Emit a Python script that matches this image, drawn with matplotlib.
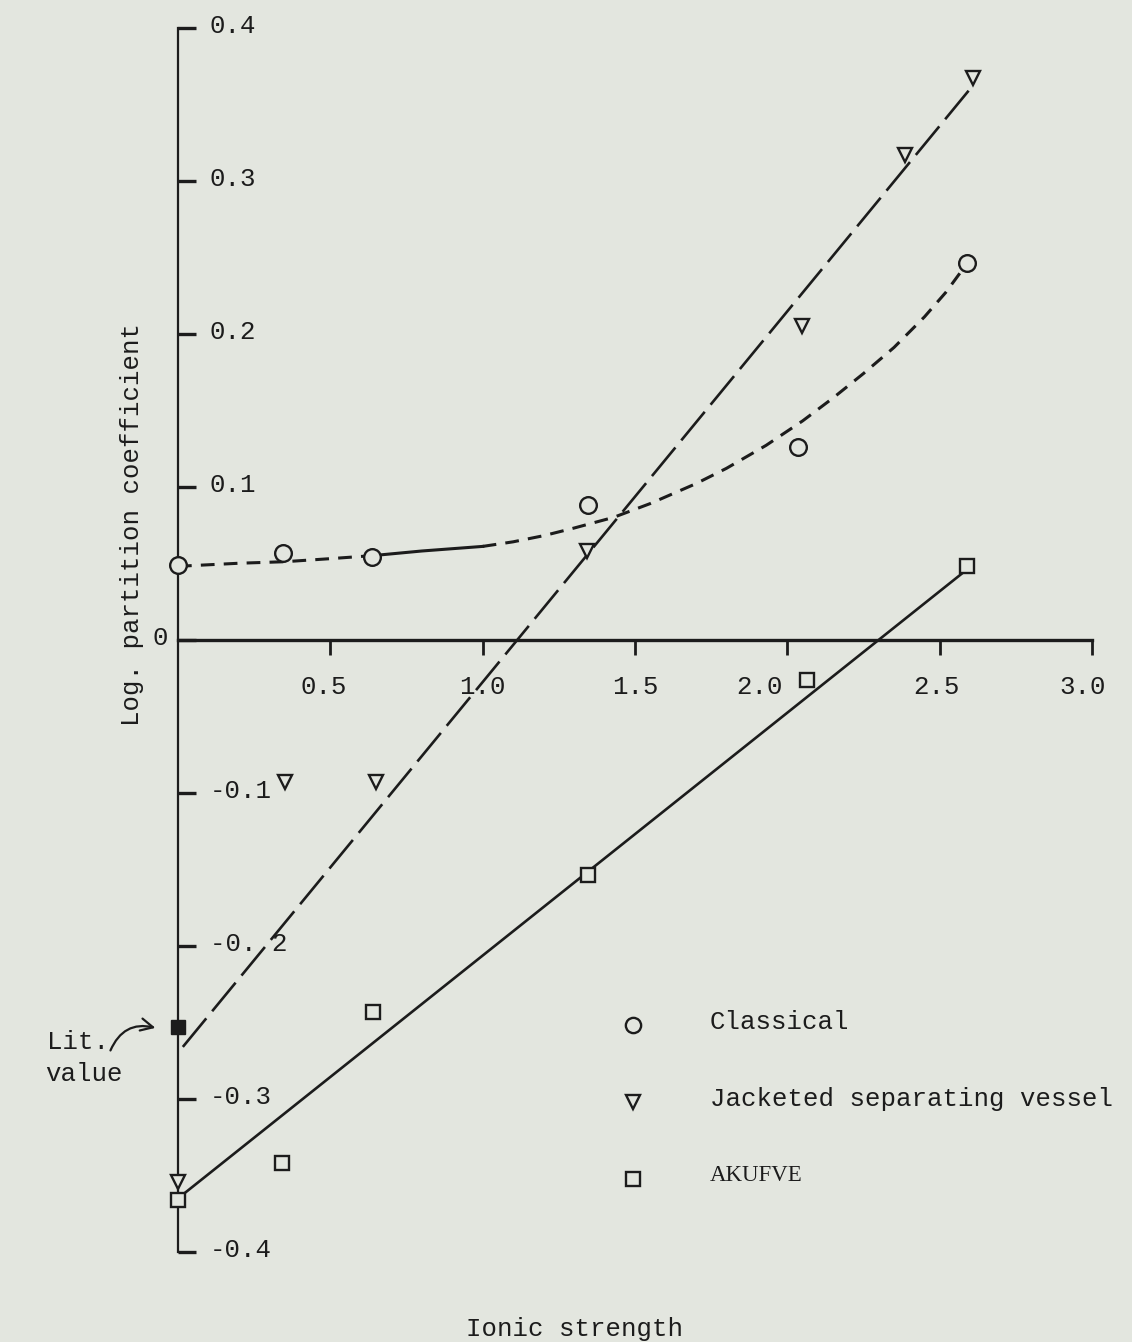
import matplotlib
matplotlib.use("Agg")
import matplotlib.pyplot as plt

# data
classical_x = [0.0, 0.345, 0.637, 1.346, 2.035, 2.59]
classical_y = [0.049, 0.057, 0.054, 0.088, 0.126, 0.246]

jacketed_x = [0.0, 0.351, 0.650, 1.342, 2.048, 2.386, 2.609]
jacketed_y = [-0.354, -0.093, -0.093, 0.058, 0.205, 0.317, 0.367]

akufve_x = [0.0, 0.341, 0.640, 1.346, 2.064, 2.59]
akufve_y = [-0.366, -0.342, -0.243, -0.154, -0.026, 0.048]

lit_x = [0.0]
lit_y = [-0.253]

# hand drawn curve / fitted lines
curve_x = [0.0, 0.2, 0.35, 0.5, 0.64, 0.8, 1.0, 1.1, 1.2, 1.3, 1.43, 1.55, 1.7, 1.8,
           1.93, 2.05, 2.15, 2.25, 2.35, 2.45, 2.52, 2.59]
curve_y = [0.048, 0.050, 0.051, 0.053, 0.055, 0.058, 0.061, 0.064, 0.068, 0.073, 0.080,
           0.089, 0.102, 0.112, 0.127, 0.143, 0.158, 0.174, 0.191, 0.211, 0.227, 0.246]
jack_fit_x = [0.016, 2.60]
jack_fit_y = [-0.266, 0.360]
akufve_fit_x = [0.0, 2.59]
akufve_fit_y = [-0.365, 0.046]

xticks = [0.5, 1.0, 1.5, 2.0, 2.5, 3.0]
xtick_labels = ['0.5', '1.0', '1.5', '2.0', '2.5', '3.0']
xlabel_pos = [0.48, 1.0, 1.5, 1.91, 2.49, 2.97]
yticks = [-0.4, -0.3, -0.2, -0.1, 0.0, 0.1, 0.2, 0.3, 0.4]
ytick_labels = ['-0.4', '-0.3', '-0. 2', '-0.1', '', '0.1', '0.2', '0.3', '0.4']

bg = '#e3e6df'
ink = '#1c1c1c'
plt.rcParams['font.family'] = ['Liberation Mono', 'DejaVu Sans Mono']

fig = plt.figure(figsize=(11.32, 13.42), dpi=100, facecolor=bg)
ax = fig.add_axes([0, 0, 1, 1])
ax.set_facecolor(bg)
ax.set_xlim(-0.584, 3.131)
ax.set_ylim(-0.4588, 0.418)

for s in ['top', 'right']:
    ax.spines[s].set_visible(False)
ax.spines['left'].set_position(('data', 0))
ax.spines['left'].set_bounds(-0.4, 0.4)
ax.spines['left'].set_linewidth(1.6)
ax.spines['left'].set_color(ink)
ax.spines['bottom'].set_position(('data', 0))
ax.spines['bottom'].set_bounds(0, 3.0)
ax.spines['bottom'].set_linewidth(2.4)
ax.spines['bottom'].set_color(ink)
ax.set_xticks(xticks)
ax.set_yticks(yticks)
ax.tick_params(axis='y', direction='in', length=13, width=2.4, color=ink, labelleft=False)
ax.tick_params(axis='x', direction='out', length=11, width=2.0, color=ink, labelbottom=False)

fs = 18.5
for x, lab in zip(xlabel_pos, xtick_labels):
    ax.text(x, -0.031, lab, ha='center', va='center', fontsize=fs, color=ink)
for y, lab in zip(yticks, ytick_labels):
    if lab:
        ax.text(0.105, y + 0.001, lab, ha='left', va='center', fontsize=fs, color=ink)
ax.text(-0.059, 0.001, '0', ha='center', va='center', fontsize=fs, color=ink)

# lines: classical curve is dashed, solid between 0.64 and 1.0
ax.plot(curve_x[:5], curve_y[:5], color=ink, lw=2.2, ls=(0, (4.5, 3)), zorder=2)
ax.plot(curve_x[4:7], curve_y[4:7], color=ink, lw=2.2, zorder=2)
ax.plot(curve_x[6:], curve_y[6:], color=ink, lw=2.2, ls=(0, (4.5, 3)), zorder=2)
ax.plot(jack_fit_x, jack_fit_y, color=ink, lw=1.9, ls=(0, (14, 3.5)), zorder=2)
ax.plot(akufve_fit_x, akufve_fit_y, color=ink, lw=1.9, zorder=2)

# points
ax.plot(classical_x, classical_y, 'o', ms=12, mfc=bg, mec=ink, mew=1.7, zorder=3)
ax.plot(jacketed_x, jacketed_y, 'v', ms=10, mfc=bg, mec=ink, mew=1.7, zorder=3)
ax.plot(akufve_x, akufve_y, 's', ms=9.5, mfc=bg, mec=ink, mew=1.7, zorder=3)
ax.plot(lit_x, lit_y, 's', ms=9.5, mfc=ink, mec=ink, zorder=4)

# legend drawn as typed text
ax.plot([1.493], [-0.252], 'o', ms=11, mfc=bg, mec=ink, mew=1.7)
ax.plot([1.493], [-0.302], 'v', ms=10, mfc=bg, mec=ink, mew=1.7)
ax.plot([1.493], [-0.352], 's', ms=9.5, mfc=bg, mec=ink, mew=1.7)
ax.text(1.746, -0.250, 'Classical', ha='left', va='center', fontsize=fs, color=ink)
ax.text(1.746, -0.300, 'Jacketed separating vessel', ha='left', va='center', fontsize=fs, color=ink)
ax.text(1.746, -0.350, 'AKUFVE', ha='left', va='center', fontsize=fs - 2, color=ink,
        family='Liberation Serif')

# literature value note
ax.text(-0.43, -0.263, 'Lit.', ha='left', va='center', fontsize=fs, color=ink)
ax.text(-0.435, -0.284, 'value', ha='left', va='center', fontsize=fs, color=ink)
ax.annotate('', xy=(-0.065, -0.254), xytext=(-0.225, -0.270),
            arrowprops=dict(arrowstyle='->', color=ink, lw=1.6,
                            connectionstyle='arc3,rad=-0.45', mutation_scale=22))

ax.text(-0.15, 0.075, 'Log. partition coefficient', rotation=90, ha='center', va='center',
        fontsize=fs, color=ink)
ax.text(1.3, -0.4505, 'Ionic strength', ha='center', va='center', fontsize=fs, color=ink)

fig.savefig('out.png', dpi=100, facecolor=bg)
